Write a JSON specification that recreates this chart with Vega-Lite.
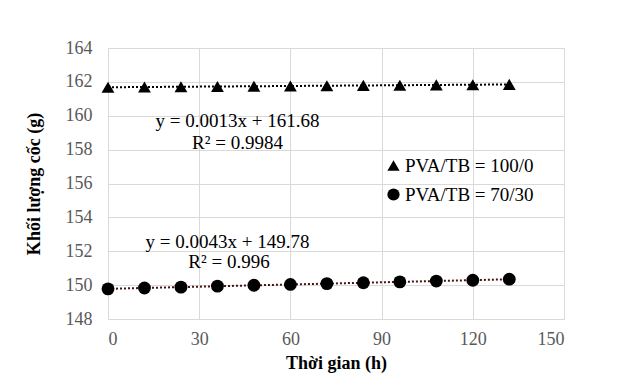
{
  "$schema": "https://vega.github.io/schema/vega-lite/v6.json",
  "width": 456,
  "height": 271,
  "autosize": {"type": "none"},
  "padding": {"left": 108, "top": 48, "right": 61, "bottom": 61},
  "background": "white",
  "config": {
    "font": "Liberation Serif",
    "view": {"stroke": "#d9d9d9", "strokeWidth": 1}
  },
  "datasets": {
    "pts": [
      {"t": 0, "m": 161.68, "series": "PVA/TB = 100/0"},
      {"t": 12, "m": 161.70, "series": "PVA/TB = 100/0"},
      {"t": 24, "m": 161.71, "series": "PVA/TB = 100/0"},
      {"t": 36, "m": 161.73, "series": "PVA/TB = 100/0"},
      {"t": 48, "m": 161.74, "series": "PVA/TB = 100/0"},
      {"t": 60, "m": 161.76, "series": "PVA/TB = 100/0"},
      {"t": 72, "m": 161.77, "series": "PVA/TB = 100/0"},
      {"t": 84, "m": 161.79, "series": "PVA/TB = 100/0"},
      {"t": 96, "m": 161.80, "series": "PVA/TB = 100/0"},
      {"t": 108, "m": 161.82, "series": "PVA/TB = 100/0"},
      {"t": 120, "m": 161.83, "series": "PVA/TB = 100/0"},
      {"t": 132, "m": 161.85, "series": "PVA/TB = 100/0"},
      {"t": 0, "m": 149.78, "series": "PVA/TB = 70/30"},
      {"t": 12, "m": 149.83, "series": "PVA/TB = 70/30"},
      {"t": 24, "m": 149.88, "series": "PVA/TB = 70/30"},
      {"t": 36, "m": 149.94, "series": "PVA/TB = 70/30"},
      {"t": 48, "m": 149.99, "series": "PVA/TB = 70/30"},
      {"t": 60, "m": 150.04, "series": "PVA/TB = 70/30"},
      {"t": 72, "m": 150.09, "series": "PVA/TB = 70/30"},
      {"t": 84, "m": 150.14, "series": "PVA/TB = 70/30"},
      {"t": 96, "m": 150.19, "series": "PVA/TB = 70/30"},
      {"t": 108, "m": 150.24, "series": "PVA/TB = 70/30"},
      {"t": 120, "m": 150.29, "series": "PVA/TB = 70/30"},
      {"t": 132, "m": 150.35, "series": "PVA/TB = 70/30"}
    ],
    "notes": [
      {"t": 42.6, "m": 159.69, "label": "y = 0.0013x + 161.68"},
      {"t": 42.6, "m": 158.39, "label": "R² = 0.9984"},
      {"t": 39.3, "m": 152.55, "label": "y = 0.0043x + 149.78"},
      {"t": 39.8, "m": 151.37, "label": "R² = 0.996"}
    ]
  },
  "encoding": {
    "x": {"field": "t", "type": "quantitative", "scale": {"domain": [0, 150]},
      "axis": {"values": [0, 30, 60, 90, 120, 150], "title": "Thời gian (h)", "labelPadding": 11, "titlePadding": 6,
        "labelFont": "Liberation Serif", "labelFontSize": 18, "labelColor": "#595959",
        "titleFont": "Liberation Serif", "titleFontSize": 18, "titleFontWeight": "bold", "titleColor": "black",
        "gridColor": "#d9d9d9", "ticks": false, "domain": false, "labelOverlap": false}},
    "y": {"field": "m", "type": "quantitative", "scale": {"domain": [148, 164], "zero": false},
      "axis": {"values": [148, 150, 152, 154, 156, 158, 160, 162, 164], "title": "Khối lượng cốc (g)", "labelPadding": 16, "titlePadding": 22,
        "labelFont": "Liberation Serif", "labelFontSize": 18, "labelColor": "#595959",
        "titleFont": "Liberation Serif", "titleFontSize": 18, "titleFontWeight": "bold", "titleColor": "black",
        "gridColor": "#d9d9d9", "ticks": false, "domain": false, "labelOverlap": false}}
  },
  "layer": [
    {
      "data": {"name": "pts"},
      "transform": [{"filter": "datum.series === 'PVA/TB = 100/0'"}, {"regression": "m", "on": "t", "method": "linear"}],
      "mark": {"type": "line", "strokeDash": [2, 2], "strokeWidth": 2, "color": "#000000"}
    },
    {
      "data": {"name": "pts"},
      "transform": [{"filter": "datum.series === 'PVA/TB = 70/30'"}, {"regression": "m", "on": "t", "method": "linear"}],
      "mark": {"type": "line", "strokeDash": [2, 2], "strokeWidth": 2, "color": "#4a1010"}
    },
    {
      "data": {"name": "pts"},
      "mark": {"type": "point", "filled": true, "opacity": 1, "color": "black", "size": 165},
      "encoding": {
        "shape": {
          "field": "series", "type": "nominal",
          "scale": {"domain": ["PVA/TB = 100/0", "PVA/TB = 70/30"], "range": ["triangle-up", "circle"]},
          "legend": {
            "title": null,
            "orient": "none",
            "legendX": 276,
            "legendY": 108,
            "labelFont": "Liberation Serif",
            "labelFontSize": 19,
            "labelColor": "black",
            "symbolFillColor": "black",
            "symbolStrokeColor": "black",
            "symbolSize": 150,
            "symbolOpacity": 1,
            "labelOffset": 2,
            "rowPadding": 9,
            "padding": 0
          }
        }
      }
    },
    {
      "data": {"name": "notes"},
      "mark": {"type": "text", "font": "Liberation Serif", "fontSize": 19, "color": "black", "align": "center", "baseline": "middle"},
      "encoding": {
        "text": {"field": "label"}
      }
    }
  ]
}
